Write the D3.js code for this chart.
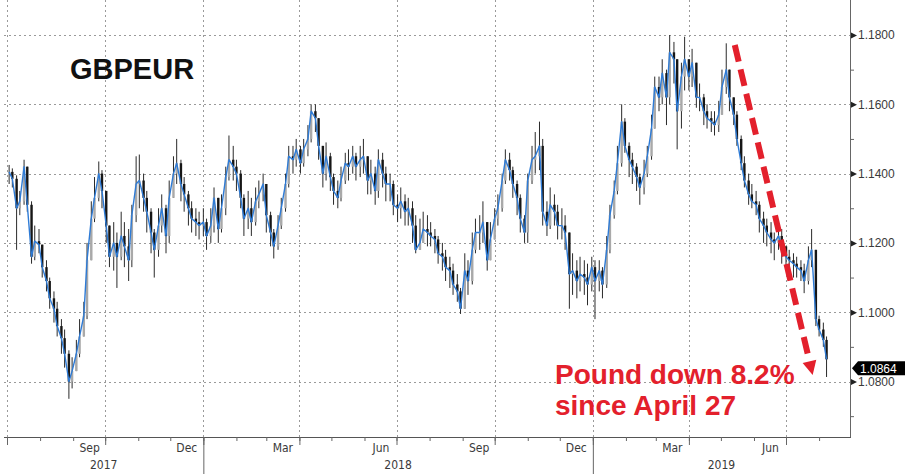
<!DOCTYPE html>
<html>
<head>
<meta charset="utf-8">
<script src="https://cdn.jsdelivr.net/npm/d3@7"></script>
<style>
  body { margin: 0; background: #fff; }
  svg { display: block; }
</style>
</head>
<body>
<svg id="chart" width="905" height="474"></svg>
<script>
var totalW = 905;
var totalH = 474;

// plot frame
var plotL = 4, plotR = 850, plotT = 0, plotB = 437;

// GBPEUR, two bars a week (Mon / Thu)
var closes = [
  // 2017 Jul .. Dec
  1.1405, 1.1385, 1.1300, 1.1320, 1.1420, 1.1310, 1.1160, 1.1205, 1.1195,
  1.1130, 1.1090, 1.1040, 1.1010, 1.0960, 1.0925, 1.0880, 1.0800, 1.0830,
  1.0880, 1.0930, 1.0990, 1.1150, 1.1270, 1.1330, 1.1400, 1.1350,
  1.1250, 1.1160, 1.1200, 1.1160, 1.1220, 1.1190, 1.1150, 1.1280, 1.1370,
  1.1380, 1.1330, 1.1290, 1.1230, 1.1180, 1.1250, 1.1300, 1.1220, 1.1330,
  1.1400, 1.1430, 1.1370, 1.1340, 1.1300, 1.1270, 1.1260, 1.1250,
  // 2018
  1.1260, 1.1220, 1.1250, 1.1330, 1.1240, 1.1300, 1.1390, 1.1440, 1.1420,
  1.1400, 1.1330, 1.1270, 1.1300, 1.1260, 1.1320, 1.1340, 1.1370,
  1.1280, 1.1230, 1.1190, 1.1250, 1.1300, 1.1370, 1.1450, 1.1440, 1.1470,
  1.1430, 1.1470, 1.1500, 1.1580, 1.1560, 1.1480, 1.1400, 1.1450, 1.1390,
  1.1350, 1.1330, 1.1380, 1.1430, 1.1420, 1.1450, 1.1420, 1.1440, 1.1450,
  1.1380, 1.1400, 1.1350, 1.1440, 1.1400, 1.1370, 1.1370, 1.1310,
  1.1300, 1.1320, 1.1290, 1.1300, 1.1250, 1.1180, 1.1200, 1.1240, 1.1230,
  1.1220, 1.1210, 1.1170, 1.1160, 1.1130, 1.1120, 1.1080, 1.1060, 1.1010,
  1.1120, 1.1090, 1.1180, 1.1230, 1.1230, 1.1260, 1.1150, 1.1210,
  1.1270, 1.1300, 1.1380, 1.1440, 1.1410, 1.1370, 1.1330, 1.1270, 1.1230,
  1.1380, 1.1440, 1.1450, 1.1480, 1.1290, 1.1250, 1.1310, 1.1290, 1.1250,
  1.1250, 1.1230, 1.1110, 1.1120, 1.1090, 1.1110, 1.1100, 1.1080, 1.1130,
  // 2019
  1.1090, 1.1120, 1.1080, 1.1180, 1.1280, 1.1350, 1.1430, 1.1550, 1.1480,
  1.1440, 1.1420, 1.1390, 1.1360, 1.1400, 1.1450, 1.1530, 1.1650,
  1.1620, 1.1690, 1.1620, 1.1750, 1.1730, 1.1580, 1.1680, 1.1730,
  1.1680, 1.1720, 1.1620, 1.1620, 1.1580, 1.1560, 1.1550, 1.1540, 1.1570,
  1.1650, 1.1700, 1.1620, 1.1570, 1.1500, 1.1430, 1.1380, 1.1340, 1.1320,
  1.1310, 1.1270, 1.1250, 1.1230, 1.1210, 1.1200, 1.1220, 1.1190,
  1.1160, 1.1150, 1.1140, 1.1130, 1.1120, 1.1090, 1.1150, 1.1180, 1.0980,
  1.0950, 1.0920, 1.0864
];

var highs = [
  1.1425, 1.1415, 1.1395, 1.1350, 1.1440, 1.1420, 1.1320, 1.1250, 1.1240,
  1.1180, 1.1150, 1.1100, 1.1060, 1.1030, 1.0980, 1.0950, 1.0890, 1.0870,
  1.0920, 1.0980, 1.1030, 1.1200, 1.1320, 1.1390, 1.1435, 1.1410,
  1.1330, 1.1250, 1.1260, 1.1230, 1.1290, 1.1260, 1.1240, 1.1310, 1.1450,
  1.1455, 1.1400, 1.1350, 1.1300, 1.1240, 1.1300, 1.1340, 1.1310, 1.1380,
  1.1450, 1.1500, 1.1440, 1.1390, 1.1350, 1.1320, 1.1300, 1.1290,
  1.1300, 1.1270, 1.1300, 1.1360, 1.1320, 1.1340, 1.1420, 1.1510, 1.1480,
  1.1440, 1.1410, 1.1340, 1.1350, 1.1330, 1.1360, 1.1380, 1.1400,
  1.1320, 1.1290, 1.1240, 1.1280, 1.1330, 1.1400, 1.1480, 1.1480, 1.1500,
  1.1480, 1.1500, 1.1540, 1.1600, 1.1600, 1.1560, 1.1480, 1.1490, 1.1460,
  1.1400, 1.1380, 1.1420, 1.1460, 1.1470, 1.1480, 1.1460, 1.1480, 1.1500,
  1.1430, 1.1440, 1.1420, 1.1470, 1.1460, 1.1420, 1.1400, 1.1380,
  1.1340, 1.1360, 1.1340, 1.1330, 1.1320, 1.1280, 1.1270, 1.1290, 1.1280,
  1.1260, 1.1240, 1.1220, 1.1200, 1.1180, 1.1160, 1.1140, 1.1110, 1.1070,
  1.1170, 1.1150, 1.1230, 1.1270, 1.1280, 1.1320, 1.1240, 1.1260,
  1.1300, 1.1340, 1.1400, 1.1470, 1.1460, 1.1420, 1.1380, 1.1340, 1.1280,
  1.1400, 1.1480, 1.1520, 1.1550, 1.1500, 1.1320, 1.1360, 1.1340, 1.1310,
  1.1300, 1.1280, 1.1230, 1.1170, 1.1150, 1.1160, 1.1150, 1.1140, 1.1160,
  1.1150, 1.1150, 1.1130, 1.1220, 1.1310, 1.1380, 1.1480, 1.1600, 1.1560,
  1.1490, 1.1460, 1.1430, 1.1400, 1.1440, 1.1480, 1.1570, 1.1680,
  1.1680, 1.1730, 1.1700, 1.1800, 1.1780, 1.1680, 1.1720, 1.1795,
  1.1720, 1.1760, 1.1700, 1.1660, 1.1630, 1.1600, 1.1580, 1.1580, 1.1610,
  1.1700, 1.1776, 1.1690, 1.1620, 1.1580, 1.1510, 1.1450, 1.1400, 1.1370,
  1.1350, 1.1320, 1.1290, 1.1270, 1.1260, 1.1230, 1.1250, 1.1240,
  1.1190, 1.1180, 1.1170, 1.1160, 1.1150, 1.1140, 1.1190, 1.1240, 1.1160,
  1.0990, 1.0970, 1.0930
];

var lows = [
  1.1370, 1.1360, 1.1180, 1.1280, 1.1310, 1.1290, 1.1140, 1.1150, 1.1170,
  1.1100, 1.1060, 1.1010, 1.0970, 1.0930, 1.0880, 1.0840, 1.0750, 1.0780,
  1.0840, 1.0870, 1.0930, 1.0980, 1.1200, 1.1260, 1.1320, 1.1300,
  1.1200, 1.1130, 1.1120, 1.1070, 1.1150, 1.1130, 1.1090, 1.1130, 1.1260,
  1.1300, 1.1290, 1.1230, 1.1170, 1.1100, 1.1160, 1.1230, 1.1170, 1.1200,
  1.1330, 1.1370, 1.1320, 1.1290, 1.1250, 1.1230, 1.1220, 1.1210,
  1.1220, 1.1180, 1.1200, 1.1230, 1.1200, 1.1230, 1.1280, 1.1380, 1.1380,
  1.1350, 1.1300, 1.1220, 1.1240, 1.1220, 1.1250, 1.1300, 1.1320,
  1.1230, 1.1190, 1.1155, 1.1180, 1.1240, 1.1290, 1.1360, 1.1400, 1.1420,
  1.1400, 1.1420, 1.1450, 1.1490, 1.1520, 1.1440, 1.1360, 1.1380, 1.1350,
  1.1310, 1.1300, 1.1320, 1.1370, 1.1380, 1.1400, 1.1380, 1.1390, 1.1400,
  1.1340, 1.1340, 1.1310, 1.1330, 1.1360, 1.1320, 1.1320, 1.1280,
  1.1260, 1.1270, 1.1250, 1.1250, 1.1200, 1.1170, 1.1180, 1.1200, 1.1190,
  1.1190, 1.1170, 1.1140, 1.1120, 1.1090, 1.1070, 1.1050, 1.1030, 1.0995,
  1.1060, 1.1050, 1.1080, 1.1170, 1.1180, 1.1200, 1.1120, 1.1150,
  1.1220, 1.1250, 1.1290, 1.1370, 1.1380, 1.1330, 1.1280, 1.1230, 1.1200,
  1.1200, 1.1370, 1.1400, 1.1410, 1.1250, 1.1220, 1.1240, 1.1250, 1.1210,
  1.1210, 1.1180, 1.1010, 1.1050, 1.1040, 1.1060, 1.1050, 1.1020, 1.1060,
  1.0980, 1.1060, 1.1040, 1.1070, 1.1170, 1.1270, 1.1340, 1.1420, 1.1460,
  1.1390, 1.1370, 1.1350, 1.1310, 1.1340, 1.1390, 1.1440, 1.1530,
  1.1580, 1.1600, 1.1540, 1.1600, 1.1660, 1.1470, 1.1530, 1.1640,
  1.1640, 1.1650, 1.1590, 1.1580, 1.1540, 1.1530, 1.1520, 1.1510, 1.1520,
  1.1570, 1.1630, 1.1580, 1.1540, 1.1480, 1.1410, 1.1360, 1.1310, 1.1300,
  1.1280, 1.1230, 1.1200, 1.1190, 1.1170, 1.1150, 1.1180, 1.1140,
  1.1130, 1.1120, 1.1100, 1.1100, 1.1090, 1.1055, 1.1080, 1.1130, 1.0960,
  1.0930, 1.0900, 1.0813
];

var yTicks = [1.08, 1.10, 1.12, 1.14, 1.16, 1.18];
var yMinorTicks = [1.07, 1.09, 1.11, 1.13, 1.15, 1.17];
var years = ['2017', '2018', '2019'];

var titleText = 'GBPEUR';
var noteLines = ['Pound down 8.2%', 'since April 27'];
var arrowFrom = [new Date(2019, 4, 14), 1.1771];
var arrowTo = [new Date(2019, 6, 26), 1.0819];

var red = '#e3202c';
var blue = '#2e7bd6';

// bar dates: every Monday and Thursday
var dates = d3.timeDay.range(new Date(2017, 6, 3), new Date(2019, 7, 9))
    .filter(function(d) { return d.getDay() === 1 || d.getDay() === 4; });

var n = Math.min(dates.length, closes.length);
var bars = [];
for (var i = 0; i < n; i++) {
    bars.push({
        date: dates[i],
        open: i ? closes[i - 1] : closes[0],
        high: highs[i],
        low: lows[i],
        close: closes[i]
    });
}

var x = d3.scaleTime()
    .domain([new Date(2017, 6, 1), new Date(2019, 6, 1)])
    .range([7, 786]);

var y = d3.scaleLinear()
    .domain([1.08, 1.18])
    .range([381.5, 35]);

var svg = d3.select('#chart');
svg.append('rect').attr('width', totalW).attr('height', totalH).attr('fill', '#fff');

// grid
var gGrid = svg.append('g').attr('class', 'grid')
    .attr('stroke', '#9a9a9a').attr('stroke-dasharray', '2,3')
    .attr('shape-rendering', 'crispEdges');

gGrid.selectAll('line.h')
    .data(yTicks)
    .enter().append('line')
    .attr('class', 'h')
    .attr('x1', plotL).attr('x2', plotR)
    .attr('y1', function(d) { return Math.round(y(d)) + 0.5; })
    .attr('y2', function(d) { return Math.round(y(d)) + 0.5; });

var quarters = d3.timeMonth.every(3).range(new Date(2017, 6, 1), new Date(2019, 6, 2));
gGrid.selectAll('line.v')
    .data(quarters)
    .enter().append('line')
    .attr('class', 'v')
    .attr('x1', function(d) { return Math.round(x(d)) + 0.5; })
    .attr('x2', function(d) { return Math.round(x(d)) + 0.5; })
    .attr('y1', plotT).attr('y2', plotB);

// candles
var gBars = svg.append('g').attr('class', 'bars');
gBars.selectAll('line')
    .data(bars)
    .enter().append('line')
    .attr('x1', function(d) { return x(d.date); })
    .attr('x2', function(d) { return x(d.date); })
    .attr('y1', function(d) { return y(Math.max(d.high, d.open, d.close)); })
    .attr('y2', function(d) { return y(Math.min(d.low, d.open, d.close)); })
    .attr('stroke', '#2a2a2a')
    .attr('stroke-width', 1);

var bodyW = 2.4;
gBars.selectAll('rect')
    .data(bars)
    .enter().append('rect')
    .attr('x', function(d) { return x(d.date) - bodyW / 2; })
    .attr('width', bodyW)
    .attr('y', function(d) { return y(Math.max(d.open, d.close)); })
    .attr('height', function(d) { return Math.max(1, Math.abs(y(d.open) - y(d.close))); })
    .attr('fill', function(d) { return d.close >= d.open ? '#a9a9a9' : '#161616'; });

// close line
var line = d3.line()
    .x(function(d) { return x(d.date); })
    .y(function(d) { return y(d.close); });

svg.append('path')
    .datum(bars)
    .attr('d', line)
    .attr('fill', 'none')
    .attr('stroke', blue)
    .attr('stroke-width', 1.4)
    .attr('stroke-linejoin', 'round');

// right axis
var gY = svg.append('g').attr('transform', 'translate(' + plotR + ',0)');
gY.call(d3.axisRight(y).tickValues(yTicks).tickSize(0).tickPadding(8)
    .tickFormat(d3.format('.4f')));
gY.select('.domain').remove();
gY.selectAll('text')
    .attr('fill', '#3a3a3a')
    .style('font-family', '"Liberation Sans", Arial, sans-serif')
    .style('font-size', '12px');
gY.selectAll('.tick').append('path')
    .attr('d', 'M1,-3L7,0L1,3Z')
    .attr('fill', '#222');

var gYMinor = svg.append('g').attr('transform', 'translate(' + plotR + ',0)');
gYMinor.call(d3.axisRight(y).tickValues(yMinorTicks).tickSize(4).tickFormat(''));
gYMinor.select('.domain').remove();
gYMinor.selectAll('line').attr('stroke', '#777');

svg.append('line')
    .attr('x1', plotR + 0.5).attr('x2', plotR + 0.5)
    .attr('y1', plotT).attr('y2', plotB)
    .attr('stroke', '#666');

// bottom axis
svg.append('line')
    .attr('x1', plotL).attr('x2', plotR + 1)
    .attr('y1', plotB + 0.5).attr('y2', plotB + 0.5)
    .attr('stroke', '#555');

var months = d3.timeMonth.range(new Date(2017, 6, 1), new Date(2019, 7, 2));
var gXMinor = svg.append('g').attr('transform', 'translate(0,' + plotB + ')');
gXMinor.call(d3.axisBottom(x).tickValues(months).tickSize(4).tickFormat(''));
gXMinor.select('.domain').remove();

var gXMajor = svg.append('g').attr('transform', 'translate(0,' + plotB + ')');
gXMajor.call(d3.axisBottom(x).tickValues(quarters).tickSize(8).tickFormat(''));
gXMajor.select('.domain').remove();

var yearStarts = [new Date(2018, 0, 1), new Date(2019, 0, 1)];
var gXYear = svg.append('g').attr('transform', 'translate(0,' + plotB + ')');
gXYear.call(d3.axisBottom(x).tickValues(yearStarts).tickSize(totalH - plotB).tickFormat(''));
gXYear.select('.domain').remove();

svg.selectAll('.tick line').attr('stroke', '#666');

var labelMonths = months.filter(function(d) { return d.getMonth() % 3 === 2; })
    .map(function(d) { return new Date(d.getFullYear(), d.getMonth(), 16); });
var gXLab = svg.append('g').attr('transform', 'translate(0,' + plotB + ')');
gXLab.call(d3.axisBottom(x).tickValues(labelMonths).tickSize(0).tickPadding(6)
    .tickFormat(d3.timeFormat('%b')));
gXLab.select('.domain').remove();
gXLab.selectAll('text')
    .attr('fill', '#3a3a3a')
    .style('font-family', '"Liberation Sans Narrow", "DejaVu Sans Condensed", "Liberation Sans", sans-serif')
    .style('font-size', '12px');

var yearEdges = [plotL, x(yearStarts[0]), x(yearStarts[1]), plotR];
svg.append('g').selectAll('text')
    .data(years)
    .enter().append('text')
    .attr('x', function(d, i) { return (yearEdges[i] + yearEdges[i + 1]) / 2; })
    .attr('y', 469)
    .attr('text-anchor', 'middle')
    .attr('fill', '#3a3a3a')
    .style('font-family', '"Liberation Sans Narrow", "DejaVu Sans Condensed", "Liberation Sans", sans-serif')
    .style('font-size', '12px')
    .text(function(d) { return d; });

// last price tag
var last = bars[bars.length - 1];
var tagY = y(last.close) + 9;
svg.append('path')
    .attr('d', 'M852,' + tagY + 'L858,' + (tagY - 7) + 'L905,' + (tagY - 7) +
        'L905,' + (tagY + 7) + 'L858,' + (tagY + 7) + 'Z')
    .attr('fill', '#000');
svg.append('text')
    .attr('x', 860).attr('y', tagY + 4.5)
    .attr('fill', '#fff')
    .style('font-family', '"Liberation Sans", Arial, sans-serif')
    .style('font-size', '12px')
    .text(d3.format('.4f')(last.close));

// title
svg.append('text')
    .attr('x', 70).attr('y', 79)
    .attr('fill', '#111')
    .style('font-family', '"Liberation Sans", Arial, sans-serif')
    .style('font-weight', 'bold')
    .style('font-size', '29px')
    .text(titleText);

// arrow
var ax1 = x(arrowFrom[0]), ay1 = y(arrowFrom[1]);
var ax2 = x(arrowTo[0]), ay2 = y(arrowTo[1]);
var len = Math.sqrt((ax2 - ax1) * (ax2 - ax1) + (ay2 - ay1) * (ay2 - ay1));
var ux = (ax2 - ax1) / len, uy = (ay2 - ay1) / len;
var headL = 14, headW = 7;
var bx = ax2 - ux * headL, by = ay2 - uy * headL;

svg.append('line')
    .attr('x1', ax1).attr('y1', ay1)
    .attr('x2', bx).attr('y2', by)
    .attr('stroke', red)
    .attr('stroke-width', 6)
    .attr('stroke-dasharray', '17,8');

svg.append('path')
    .attr('d', 'M' + ax2 + ',' + ay2 +
        'L' + (bx - uy * headW) + ',' + (by + ux * headW) +
        'L' + (bx + uy * headW) + ',' + (by - ux * headW) + 'Z')
    .attr('fill', red);

// note
svg.append('g').selectAll('text')
    .data(noteLines)
    .enter().append('text')
    .attr('x', 555)
    .attr('y', function(d, i) { return 384 + i * 31; })
    .attr('fill', red)
    .style('font-family', '"Liberation Sans", Arial, sans-serif')
    .style('font-weight', 'bold')
    .style('font-size', '28px')
    .text(function(d) { return d; });
</script>
</body>
</html>
